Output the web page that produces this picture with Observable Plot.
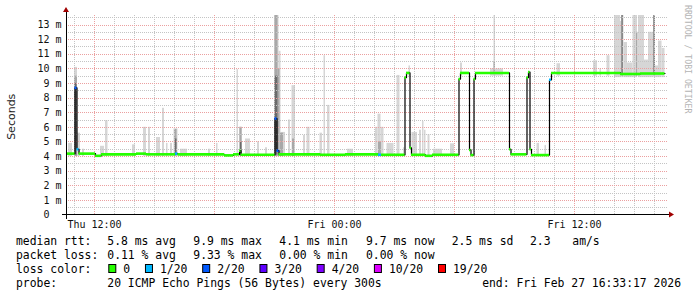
<!DOCTYPE html>
<html><head><meta charset="utf-8">
<script src="https://cdn.jsdelivr.net/npm/d3@7"></script>
<script src="https://cdn.jsdelivr.net/npm/@observablehq/plot@0.6"></script>
<style>
html,body{margin:0;padding:0;background:#fff;}
#chart{width:697px;height:297px;overflow:hidden;}
</style></head><body><div id="chart"></div>
<script>
// ---- data (time in hours since Thu 00:00, values in milliseconds) ----
const xDomain = [10.6, 40.7];
const yDomain = [0, 13.65];
const yTicks = [0,1,2,3,4,5,6,7,8,9,10,11,12,13];
const yTickLabels = ["0\u00a0\u00a0","1 m","2 m","3 m","4 m","5 m","6 m","7 m","8 m","9 m","10 m","11 m","12 m","13 m"];
const yMinorGrid = [0.5,1.5,2.5,3.5,4.5,5.5,6.5,7.5,8.5,9.5,10.5,11.5,12.5,13.5];
const xTicks = [12, 24, 36];
const xTickLabels = ["Thu 12:00", "Fri 00:00", "Fri 12:00"];
const xMajorGrid = [12, 18, 24, 30, 36];
const xMinorGrid = [11,13,14,15,16,17,19,20,21,22,23,25,26,27,28,29,31,32,33,34,35,37,38,39,40];

// median rtt (step segments): start time, value, lost pings of 20
const medianStart = [10.65,11.025,11.125,11.225,12.05,12.35,14.1,14.6,16.05,16.175,18.5,18.95,19.25,19.325,21.025,21.125,21.225,23.3,24.55,26.2,26.35,27.525,27.6,27.775,27.85,28.55,28.9,30.225,30.3,30.75,30.825,30.975,31.05,32.75,32.825,33.625,33.7,33.775,33.85,34.75,34.85,38.3,39.3];
const medianValue = [4.2,8.7,4.5,4.2,4.05,4.15,4.2,4.15,4.2,4.15,4.08,4.15,4.4,4.12,6.6,4.4,4.15,4.12,4.15,4.12,4.12,9.4,9.72,4.6,4.12,4.05,4.12,9.3,9.72,4.45,4.1,9.3,9.72,4.5,4.15,9.4,9.78,4.5,4.1,9.25,9.72,9.65,9.68];
const medianLoss  = [0,2,1,0,0,0,0,0,1,0,0,0,0,0,2,2,0,0,0,1,0,0,0,0,0,0,0,0,0,0,0,0,0,0,0,0,0,0,0,1,0,0,0];
const medianLast = 40.525;

// smoke: start, end, low, high, layer
const smokeStart = [10.70,11.00,11.15,11.40,12.30,12.55,13.90,14.45,14.70,15.10,15.40,15.60,15.80,15.975,16.30,17.70,18.10,19.125,19.25,19.55,20.15,20.55,21.00,21.225,21.325,21.70,21.875,22.45,22.625,23.275,23.475,23.65,24.65,26.05,26.175,26.325,26.625,27.125,27.45,27.725,27.875,28.25,28.40,28.50,28.675,28.95,29.80,30.30,31.80,31.975,34.125,34.525,35.125,36.00,36.95,37.275,37.625,38.00,38.30,38.375,38.475,38.65,38.925,39.20,39.50,39.70,39.975,40.05,40.20,40.375,
  11.00,16.00,19.275,21.025,21.175,21.30,21.90,26.20,31.975,38.375,39.10,39.975,
  11.025,16.05,19.30,21.025,38.375,39.975];
const smokeEnd = [10.90,11.15,11.30,11.50,12.50,12.675,14.05,14.60,14.80,15.30,15.50,15.675,15.90,16.175,16.65,17.80,18.175,19.20,19.40,19.80,20.25,20.65,21.225,21.325,21.55,21.80,22.05,22.55,22.775,23.40,23.55,23.775,24.95,26.175,26.325,26.475,26.975,27.275,27.525,27.80,28.15,28.35,28.475,28.575,28.775,29.40,30.00,30.40,32.45,32.05,34.25,34.60,35.30,36.05,37.15,37.35,37.775,38.30,38.375,38.475,38.65,38.925,39.15,39.50,39.70,39.975,40.05,40.20,40.375,40.525,
  11.15,16.125,19.375,21.175,21.275,21.45,22.00,26.35,32.05,38.45,39.175,40.05,
  11.125,16.125,19.375,21.175,38.425,40.025];
const smokeLow = [4.0,4.0,4.0,4.0,4.0,4.0,4.0,4.0,4.0,4.0,4.0,4.0,4.0,4.0,4.0,4.0,4.0,4.0,4.0,4.0,4.0,4.0,4.0,4.0,4.0,4.0,4.0,4.0,4.0,4.0,4.0,4.0,4.0,4.0,4.0,4.0,4.0,4.0,4.0,9.5,4.0,4.0,4.0,4.0,4.0,4.0,4.0,9.5,9.5,9.5,4.0,4.0,9.5,9.5,9.5,9.5,9.5,9.4,9.4,9.4,9.4,9.4,9.4,9.4,9.4,9.4,9.4,9.4,9.4,9.4,
  4.0,4.0,4.0,4.0,4.0,4.0,4.0,4.0,9.6,9.5,9.5,9.5,
  4.1,4.1,4.2,4.1,9.6,9.6];
const smokeHigh = [4.9,10.1,5.6,4.5,4.7,6.45,4.8,6.0,6.0,5.3,7.3,4.9,4.9,5.9,4.5,4.5,4.9,9.95,6.0,5.2,5.0,4.6,13.7,11.2,5.65,6.5,8.85,5.45,6.0,5.6,10.9,7.5,4.5,6.0,6.9,6.0,4.9,9.55,4.6,10.2,5.65,5.8,6.4,5.8,5.5,4.5,4.87,10.4,10.0,13.7,4.9,4.75,10.35,11.0,10.55,10.0,10.9,13.7,13.25,13.7,11.8,10.4,13.7,13.7,10.6,12.5,13.7,10.2,11.9,11.4,
  9.5,5.85,6.0,13.7,10.0,5.6,5.2,5.0,10.5,13.7,12.5,13.7,
  9.0,5.2,5.0,9.5,13.7,13.7];
const smokeLayer = [].concat(Array(70).fill("outer"), Array(12).fill("middle"), Array(6).fill("inner"));

const lossLevels = [0, 1, 2, 3, 4, 10, 19];
const lossLabels = ["0", "1/20", "2/20", "3/20", "4/20", "10/20", "19/20"];
const lossColors = ["#26ff00", "#00b8ff", "#0059ff", "#5e00ff", "#7e00ff", "#dd00ff", "#ff0000"];

const statsRtt  = ["median rtt:", "5.8 ms avg", "9.9 ms max", "4.1 ms min", "9.7 ms now", "2.5 ms sd", "2.3", "am/s"];
const statsLoss = ["packet loss:", "0.11 % avg", "9.33 % max", "0.00 % min", "0.00 % now"];
const probeText = ["probe:", "20 ICMP Echo Pings (56 Bytes) every 300s"];
const endText = "end: Fri Feb 27 16:33:17 2026";
const yTitle = "Seconds";
const watermark = "RRDTOOL / TOBI OETIKER";

// ---- build ----
const segs = medianStart.map((t, i) => ({
  t1: t, t2: i + 1 < medianStart.length ? medianStart[i + 1] : medianLast,
  v: medianValue[i], color: lossColors[lossLevels.indexOf(medianLoss[i])]
}));
const linePts = medianStart.map((t, i) => ({t, v: medianValue[i]}))
  .concat([{t: medianLast, v: medianValue[medianValue.length - 1]}]);
const smoke = smokeStart.map((s, i) => ({x1: s, x2: smokeEnd[i], y1: smokeLow[i], y2: smokeHigh[i], layer: smokeLayer[i]}));

const gridDash = "1,1";
const plot = Plot.plot({
  width: 697, height: 297,
  marginLeft: 66, marginRight: 29, marginTop: 15, marginBottom: 82.5,
  style: {fontFamily: "'DejaVu Sans Mono', monospace", fontSize: "10px", color: "#111", background: "#fff"},
  color: {type: "identity"},
  x: {domain: xDomain, ticks: xTicks, tickFormat: d => xTickLabels[xTicks.indexOf(d)], tickSize: 0, tickPadding: 6, label: null},
  y: {domain: yDomain, ticks: yTicks, tickFormat: d => yTickLabels[yTicks.indexOf(d)], tickSize: 0, tickPadding: 5, label: null},
  marks: [
    Plot.rect(smoke.filter(d => d.layer === "outer"), {x1: "x1", x2: "x2", y1: "y1", y2: "y2", fill: "#d6d6d6", clip: true}),
    Plot.rect(smoke.filter(d => d.layer === "middle"), {x1: "x1", x2: "x2", y1: "y1", y2: "y2", fill: "#a8a8a8", clip: true}),
    Plot.rect(smoke.filter(d => d.layer === "inner"), {x1: "x1", x2: "x2", y1: "y1", y2: "y2", fill: "#6a6a6a", clip: true}),
    Plot.ruleY(yMinorGrid, {stroke: "#c4c4c4", strokeDasharray: gridDash, shapeRendering: "crispEdges"}),
    Plot.ruleX(xMinorGrid, {stroke: "#c4c4c4", strokeDasharray: gridDash, shapeRendering: "crispEdges"}),
    Plot.ruleY(yTicks.slice(1), {stroke: "#eba0a0", strokeDasharray: gridDash, shapeRendering: "crispEdges"}),
    Plot.ruleX(xMajorGrid, {stroke: "#eba0a0", strokeDasharray: gridDash, shapeRendering: "crispEdges"}),
    Plot.line(linePts, {x: "t", y: "v", curve: "step-after", stroke: "#000", strokeWidth: 1.2}),
    Plot.ruleY(segs, {x1: "t1", x2: "t2", y: "v", stroke: "color", strokeWidth: 2.6})
  ]
});
document.getElementById("chart").appendChild(plot);

// ---- axes, arrows and legend text ----
const sx = plot.scale("x"), sy = plot.scale("y");
const svg = d3.select(plot);
const x0 = sx.apply(xDomain[0]), x1 = sx.apply(xDomain[1]);
const y0 = sy.apply(0), yTop = sy.apply(yDomain[1]);
const g = svg.append("g").attr("text-anchor", "start");
g.append("line").attr("x1", x0 - 4).attr("x2", x1 + 1).attr("y1", y0).attr("y2", y0)
  .attr("stroke", "#000").attr("shape-rendering", "crispEdges");
g.append("line").attr("x1", x0).attr("x2", x0).attr("y1", y0 + 4).attr("y2", yTop - 3)
  .attr("stroke", "#000").attr("shape-rendering", "crispEdges");
g.append("path").attr("d", `M${x1 + 1},${y0 - 3}L${x1 + 6},${y0}L${x1 + 1},${y0 + 3}Z`).attr("fill", "#a00000");
g.append("path").attr("d", `M${x0 - 3},${yTop - 3}L${x0},${yTop - 8}L${x0 + 3},${yTop - 3}Z`).attr("fill", "#a00000");

g.append("text").text(yTitle)
  .attr("transform", `translate(14.5,${(y0 + yTop) / 2 + 2}) rotate(-90)`)
  .attr("text-anchor", "middle").attr("font-family", "'DejaVu Sans', sans-serif")
  .attr("font-size", 11).attr("fill", "#222");
g.append("text").text(watermark)
  .attr("transform", "translate(684.5,5) rotate(90)")
  .attr("text-anchor", "start")
  .attr("font-family", "'DejaVu Sans Mono', monospace").attr("font-size", 8.2).attr("fill", "#b4b4b4");

const legendFont = {family: "'DejaVu Sans Mono', monospace", size: 11.4};
function txt(s, x, y, anchor) {
  return g.append("text").text(s).attr("x", x).attr("y", y)
    .attr("font-family", legendFont.family).attr("font-size", legendFont.size)
    .attr("fill", "#000").attr("text-anchor", anchor || "start").style("white-space", "pre");
}
const colX = [16, 107.3, 193.3, 279.3, 366, 451.7, 530, 572.3];
statsRtt.forEach((s, i) => txt(s, colX[i], 245));
statsLoss.forEach((s, i) => txt(s, colX[i], 259));
txt("loss color:", 16, 273);
let lx = 108.3;
lossLabels.forEach((lab, i) => {
  g.append("rect").attr("x", lx + 0.5).attr("y", 264.5).attr("width", 7).attr("height", 8)
    .attr("fill", lossColors[i]).attr("stroke", "#000").attr("stroke-width", 1);
  const t = txt(lab, lx + 15, 273);
  lx = lx + 15 + t.node().getComputedTextLength() + 14.8;
});
txt(probeText[0], 16, 287);
txt(probeText[1], 107.3, 287);
txt(endText, 681, 287, "end");
</script></body></html>
